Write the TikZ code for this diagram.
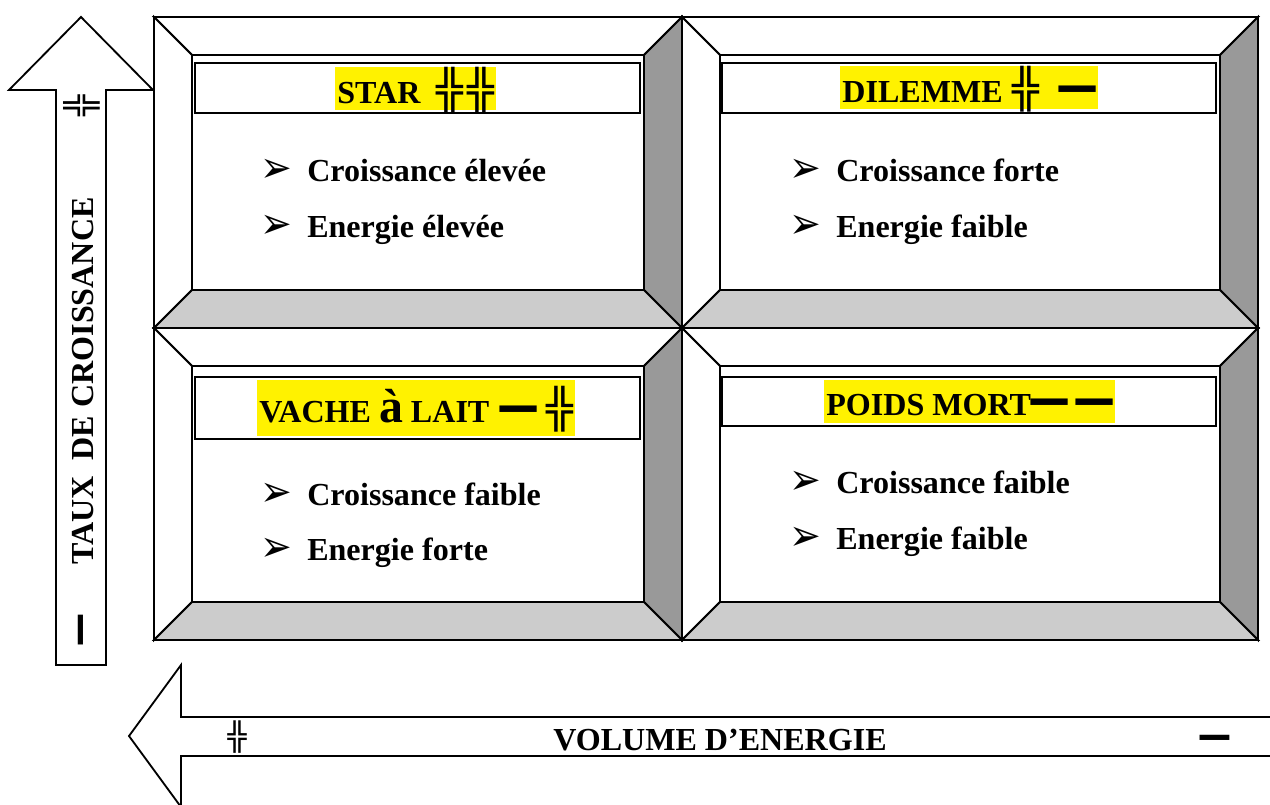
\documentclass[tikz,border=0pt]{standalone}
\usepackage{fontspec}
\setmainfont{Liberation Serif}
\newfontfamily\symfont{DejaVu Sans}
\usepackage{graphicx}

% double cross and heavy bar glyphs
\newcommand\dbl[1][27.5]{{\symfont\fontsize{#1}{#1}\selectfont\scalebox{1.15}[1]{╬}}}
\newcommand\hvy[1][27.5]{{\symfont\fontsize{#1}{#1}\selectfont\scalebox{1.55}[1]{━}}}

\begin{document}
\begin{tikzpicture}[x=0.025cm,y=-0.025cm,
  txt/.style={font=\bfseries\fontsize{22.8}{27}\selectfont,inner sep=0pt},
  title/.style={txt,fill=yellow,inner xsep=1.5pt,inner ysep=0pt,
    text height=25.5pt,text depth=5pt,anchor=base west},
  bullet/.style={font=\symfont\fontsize{27}{27}\selectfont,inner sep=0pt,anchor=west},
  frame/.style={draw,line width=2.1pt},
  bevel/.style={draw,line width=1.3pt},
  arr/.style={draw,line width=1.3pt,fill=white}]
  \clip (0,0) rectangle (1270,804);
  \fill[white] (0,0) rectangle (1270,804);

  % axis arrows
  \filldraw[arr] (56,665) -- (56,90) -- (9,90) -- (81,17) -- (153,90) -- (106,90) -- (106,665) -- cycle;
  \filldraw[arr] (1290,717) -- (181,717) -- (181,665) -- (129,736) -- (181,807) -- (181,756) -- (1290,756) -- cycle;

  % the four bevelled panels
  \foreach \xa/\ya/\xb/\yb in {154/17/682/328, 682/17/1258/328, 154/328/682/640, 682/328/1258/640} {
    \filldraw[bevel,fill=white] (\xa,\ya) -- (\xb,\ya) -- (\xb-38,\ya+38) -- (\xa+38,\ya+38) -- cycle;
    \filldraw[bevel,fill=white] (\xa,\ya) -- (\xa+38,\ya+38) -- (\xa+38,\yb-38) -- (\xa,\yb) -- cycle;
    \filldraw[bevel,fill=black!40] (\xb,\ya) -- (\xb,\yb) -- (\xb-38,\yb-38) -- (\xb-38,\ya+38) -- cycle;
    \filldraw[bevel,fill=black!20] (\xa,\yb) -- (\xb,\yb) -- (\xb-38,\yb-38) -- (\xa+38,\yb-38) -- cycle;
  }

  % title frames
  \draw[frame] (195,63) rectangle (640,113);
  \draw[frame] (722,63) rectangle (1216,113);
  \draw[frame] (195,377) rectangle (640,439);
  \draw[frame] (722,377) rectangle (1216,426);

  \node[title] (star) at (335,103) {STAR\hspace{0.5em}\dbl\hspace{3pt}\dbl};
  \node[title] (dilemme) at (840,102) {DILEMME\hspace{0.3em}\dbl\hspace{0.65em}\hvy};
  \node[title,text height=29.8pt,text depth=10pt] (vache) at (257,422)
    {VACHE {\fontsize{34}{34}\selectfont à} LAIT\hspace{0.35em}\hvy\hspace{0.3em}\dbl};
  \node[title,text height=24.8pt,text depth=5.7pt] (poids) at (824,415) {POIDS MORT\hvy\hspace{0.3em}\hvy};

  % bullet lists
  \foreach \xb/\yb/\nm/\words in {260/181/tla/Croissance élevée, 260/237/tlb/Energie élevée,
      789/181/tra/Croissance forte, 789/237/trb/Energie faible,
      260/505/bla/Croissance faible, 260/560/blb/Energie forte,
      789/493/bra/Croissance faible, 789/549/brb/Energie faible} {
    \node[bullet] (\nm-b) at (\xb,\yb-10) {\scalebox{1}[1.15]{➢}};
    \node[txt,anchor=base west] (\nm) at (\xb+47,\yb) {\words};
  }

  % axis labels
  \node[txt,rotate=90] (taux) at (83,381) {TAUX\ \ DE CROISSANCE};
  \node[inner sep=0pt,rotate=90] (tauxhi) at (82,106) {\dbl[22]};
  \node[inner sep=0pt,rotate=90] (tauxlo) at (85,630) {\hvy[22]};
  \node[txt,anchor=base] (volume) at (720,750) {VOLUME D’ENERGIE};
  \node[inner sep=0pt] (volhi) at (237,737) {\dbl[19.5]};
  \node[inner sep=0pt] (vollo) at (1215,742) {\hvy[22]};
\end{tikzpicture}
\end{document}
